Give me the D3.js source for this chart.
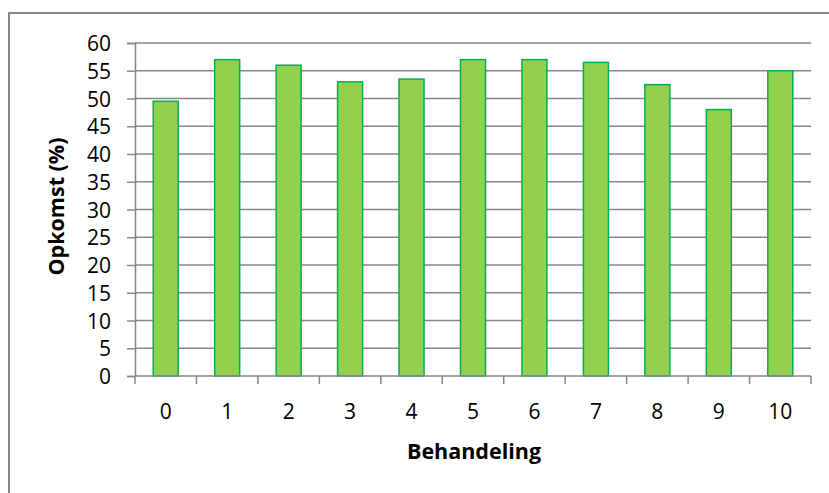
<!DOCTYPE html>
<html>
<head>
<meta charset="utf-8">
<script src="https://cdn.jsdelivr.net/npm/d3@7"></script>
<style>
  body { margin: 0; background: #fff; }
  text { font-family: "Open Sans", Lato, sans-serif; fill: #000; }
</style>
</head>
<body>
<svg id="chart" width="829" height="493"></svg>
<script>
// data
var behandeling = ["0", "1", "2", "3", "4", "5", "6", "7", "8", "9", "10"];
var opkomst = [49.5, 57, 56, 53, 53.5, 57, 57, 56.5, 52.5, 48, 55];
var yTicks = [0, 5, 10, 15, 20, 25, 30, 35, 40, 45, 50, 55, 60];

var svg = d3.select("#chart");
var pLeft = 135, pRight = 811, pTop = 43, pBottom = 376;
var grey = "#878787";
var tickFont = 21;

// outer chart border
svg.append("rect")
  .attr("x", 9).attr("y", 13)
  .attr("width", 840).attr("height", 500)
  .attr("fill", "none").attr("stroke", grey).attr("stroke-width", 2);

var xb = d3.scaleBand().domain(behandeling).range([pLeft, pRight]);
var y = d3.scaleLinear().domain([0, 60]).range([pBottom, pTop]);

// gridlines
svg.append("g").selectAll("line")
  .data(yTicks.slice(1))
  .enter().append("line")
  .attr("x1", pLeft).attr("x2", pRight)
  .attr("y1", function(d){ return y(d); }).attr("y2", function(d){ return y(d); })
  .attr("stroke", grey).attr("stroke-width", 1.5);

// y axis
var yAxis = svg.append("g")
  .attr("transform", "translate(" + pLeft + ",0)")
  .call(d3.axisLeft(y).tickValues(yTicks).tickSize(8).tickPadding(16));
yAxis.select(".domain").attr("stroke", grey).attr("stroke-width", 1.5);
yAxis.selectAll(".tick line").attr("stroke", grey).attr("stroke-width", 1.5);
yAxis.selectAll(".tick text")
  .attr("font-size", tickFont).attr("font-family", "Open Sans")
  .attr("fill", "#000").attr("dy", "0.36em");

// bars
svg.append("g").selectAll("rect")
  .data(opkomst)
  .enter().append("rect")
  .attr("x", function(d, i){ return xb(behandeling[i]) + xb.bandwidth() / 2 - 12.5; })
  .attr("width", 25)
  .attr("y", function(d){ return y(d); })
  .attr("height", function(d){ return pBottom - y(d); })
  .attr("fill", "#92d050")
  .attr("stroke", "#00b050")
  .attr("stroke-width", 1.5);

// x axis line and ticks at band edges
svg.append("line")
  .attr("x1", pLeft).attr("x2", pRight)
  .attr("y1", pBottom).attr("y2", pBottom)
  .attr("stroke", grey).attr("stroke-width", 1.5);
var edges = behandeling.map(function(d){ return xb(d); }).concat([pRight]);
svg.append("g").selectAll("line")
  .data(edges)
  .enter().append("line")
  .attr("x1", function(d){ return d; }).attr("x2", function(d){ return d; })
  .attr("y1", pBottom).attr("y2", pBottom + 8)
  .attr("stroke", grey).attr("stroke-width", 1.5);

svg.append("g").selectAll("text")
  .data(behandeling)
  .enter().append("text")
  .attr("x", function(d){ return xb(d) + xb.bandwidth() / 2; })
  .attr("y", 419)
  .attr("text-anchor", "middle")
  .attr("font-size", tickFont)
  .text(function(d){ return d; });

// axis titles
svg.append("text")
  .attr("x", (pLeft + pRight) / 2 + 1).attr("y", 459)
  .attr("text-anchor", "middle")
  .attr("font-size", 21.5).attr("font-weight", "bold")
  .text("Behandeling");

svg.append("text")
  .attr("transform", "translate(64," + ((pTop + pBottom) / 2 - 3) + ") rotate(-90)")
  .attr("text-anchor", "middle")
  .attr("font-size", 21.5).attr("font-weight", "bold")
  .text("Opkomst (%)");
</script>
</body>
</html>
